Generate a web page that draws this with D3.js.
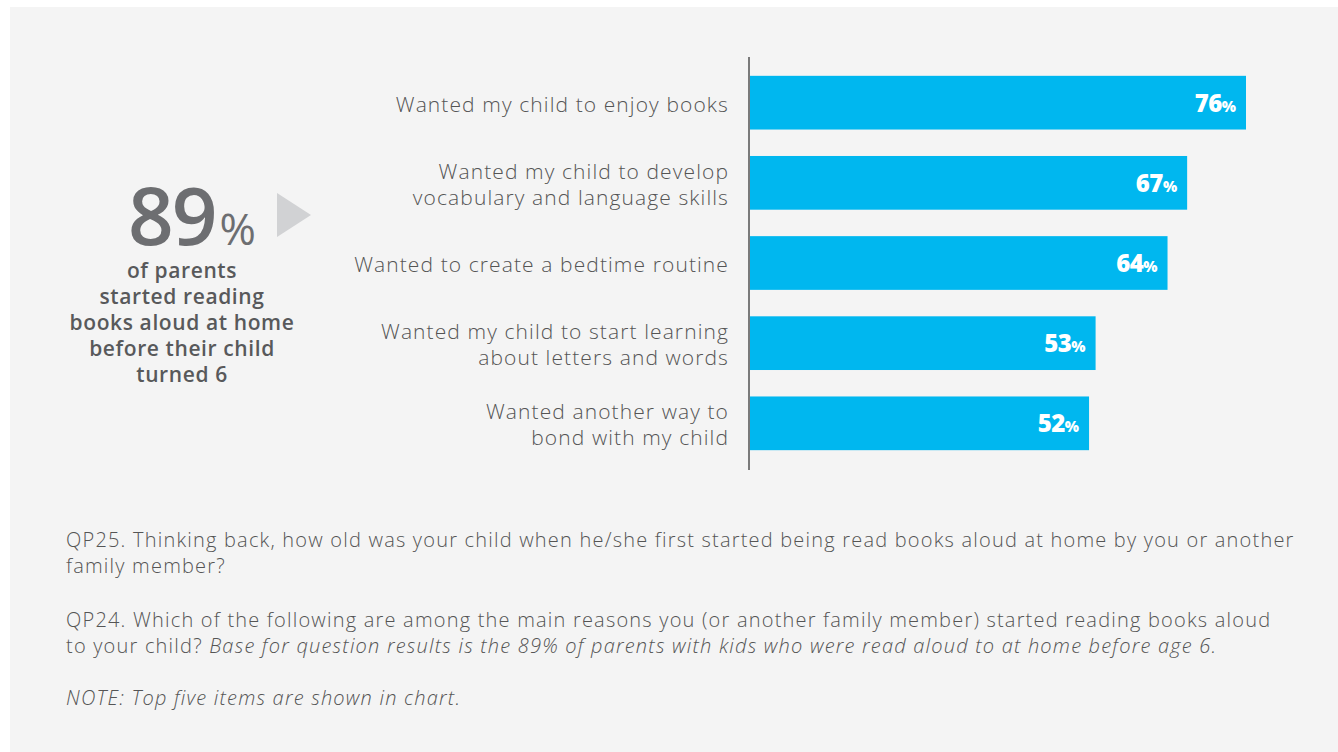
<!DOCTYPE html>
<html>
<head>
<meta charset="utf-8">
<title>Reasons for reading aloud</title>
<style>
	body { margin: 0; background: #fff; }
	svg text { font-family: "Open Sans", Lato, sans-serif; }
</style>
</head>
<body>
<script src="https://d3js.org/d3.v7.min.js"></script>
<script>
var reasons = [
	["Wanted my child to enjoy books"],
	["Wanted my child to develop", "vocabulary and language skills"],
	["Wanted to create a bedtime routine"],
	["Wanted my child to start learning", "about letters and words"],
	["Wanted another way to", "bond with my child"]
];
var values = [76, 67, 64, 53, 52];
var headline = 89;
var headlineLines = ["of parents", "started reading", "books aloud at home", "before their child", "turned 6"];

var W = 1338, H = 752;
var svg = d3.select("body").append("svg").attr("width", W).attr("height", H);

// gray panel
svg.append("rect").attr("x", 10).attr("y", 7).attr("width", W - 10).attr("height", H - 7).attr("fill", "#f4f4f4");

var x0 = 749;
var x = d3.scaleLinear().domain([0, 76]).range([0, 497]);
var y = d3.scaleBand()
	.domain(d3.range(values.length))
	.range([63, 463])
	.paddingInner(0.33)
	.paddingOuter(0.16);

// axis line
svg.append("line")
	.attr("x1", x0).attr("x2", x0)
	.attr("y1", 57).attr("y2", 470)
	.attr("stroke", "#7a7a7a").attr("stroke-width", 2);

var bars = svg.selectAll(".bar")
	.data(values)
	.enter().append("g")
	.attr("class", "bar")
	.attr("transform", function(d, i) { return "translate(0," + y(i) + ")"; });

bars.append("rect")
	.attr("x", x0 + 1)
	.attr("width", function(d) { return x(d) - 1; })
	.attr("height", y.bandwidth())
	.attr("fill", "#00b7ef");

bars.append("text")
	.attr("x", function(d) { return x0 + x(d) - 10; })
	.attr("y", y.bandwidth() / 2 + 9)
	.attr("text-anchor", "end")
	.attr("fill", "#fff")
	.attr("font-weight", 800)
	.each(function(d) {
		var t = d3.select(this);
		t.append("tspan").attr("font-size", 24).attr("letter-spacing", -0.5).text(d);
		t.append("tspan").attr("font-size", 15).text("%");
	});

// category labels
bars.append("text")
	.attr("x", x0 - 20)
	.attr("text-anchor", "end")
	.attr("fill", "#555")
	.attr("font-size", 21)
	.attr("font-weight", 300)
	.attr("letter-spacing", 1.1)
	.each(function(d, i) {
		var lines = reasons[i];
		var t = d3.select(this);
		var start = y.bandwidth() / 2 + 9 - (lines.length - 1) * 13;
		lines.forEach(function(l, k) {
			t.append("tspan").attr("x", x0 - 20).attr("y", start + k * 26).text(l);
		});
	});

// headline
var big = svg.append("text")
	.attr("x", 192).attr("y", 245)
	.attr("text-anchor", "middle")
	.attr("fill", "#6d6e71");
big.append("tspan").attr("font-size", 80).attr("font-weight", 600).attr("letter-spacing", -2).text(headline);
big.append("tspan").attr("font-size", 44).attr("font-weight", 400).attr("dx", 4).text("%");

svg.append("path")
	.attr("d", "M277,193 L311,215 L277,237 Z")
	.attr("fill", "#d1d2d4");

svg.append("g").selectAll("text")
	.data(headlineLines)
	.enter().append("text")
	.attr("x", 182)
	.attr("y", function(d, i) { return 278 + i * 26; })
	.attr("text-anchor", "middle")
	.attr("fill", "#58595b")
	.attr("font-size", 21)
	.attr("font-weight", 600)
	.attr("letter-spacing", 0.6)
	.text(function(d) { return d; });

// footnotes
var notes = [
	{ y: 547, parts: [["QP25. Thinking back, how old was your child when he/she first started being read books aloud at home by you or another", false]] },
	{ y: 573, parts: [["family member?", false]] },
	{ y: 627, parts: [["QP24. Which of the following are among the main reasons you (or another family member) started reading books aloud", false]] },
	{ y: 653, parts: [["to your child? ", false], ["Base for question results is the 89% of parents with kids who were read aloud to at home before age 6.", true]] },
	{ y: 705, parts: [["NOTE: Top five items are shown in chart.", true]] }
];
notes.forEach(function(n) {
	var t = svg.append("text")
		.attr("x", 66).attr("y", n.y)
		.attr("fill", "#555")
		.attr("font-size", 20)
		.attr("font-weight", 300)
		.attr("letter-spacing", 1.2);
	n.parts.forEach(function(p) {
		t.append("tspan").attr("font-style", p[1] ? "italic" : "normal").text(p[0]);
	});
});
</script>
</body>
</html>
